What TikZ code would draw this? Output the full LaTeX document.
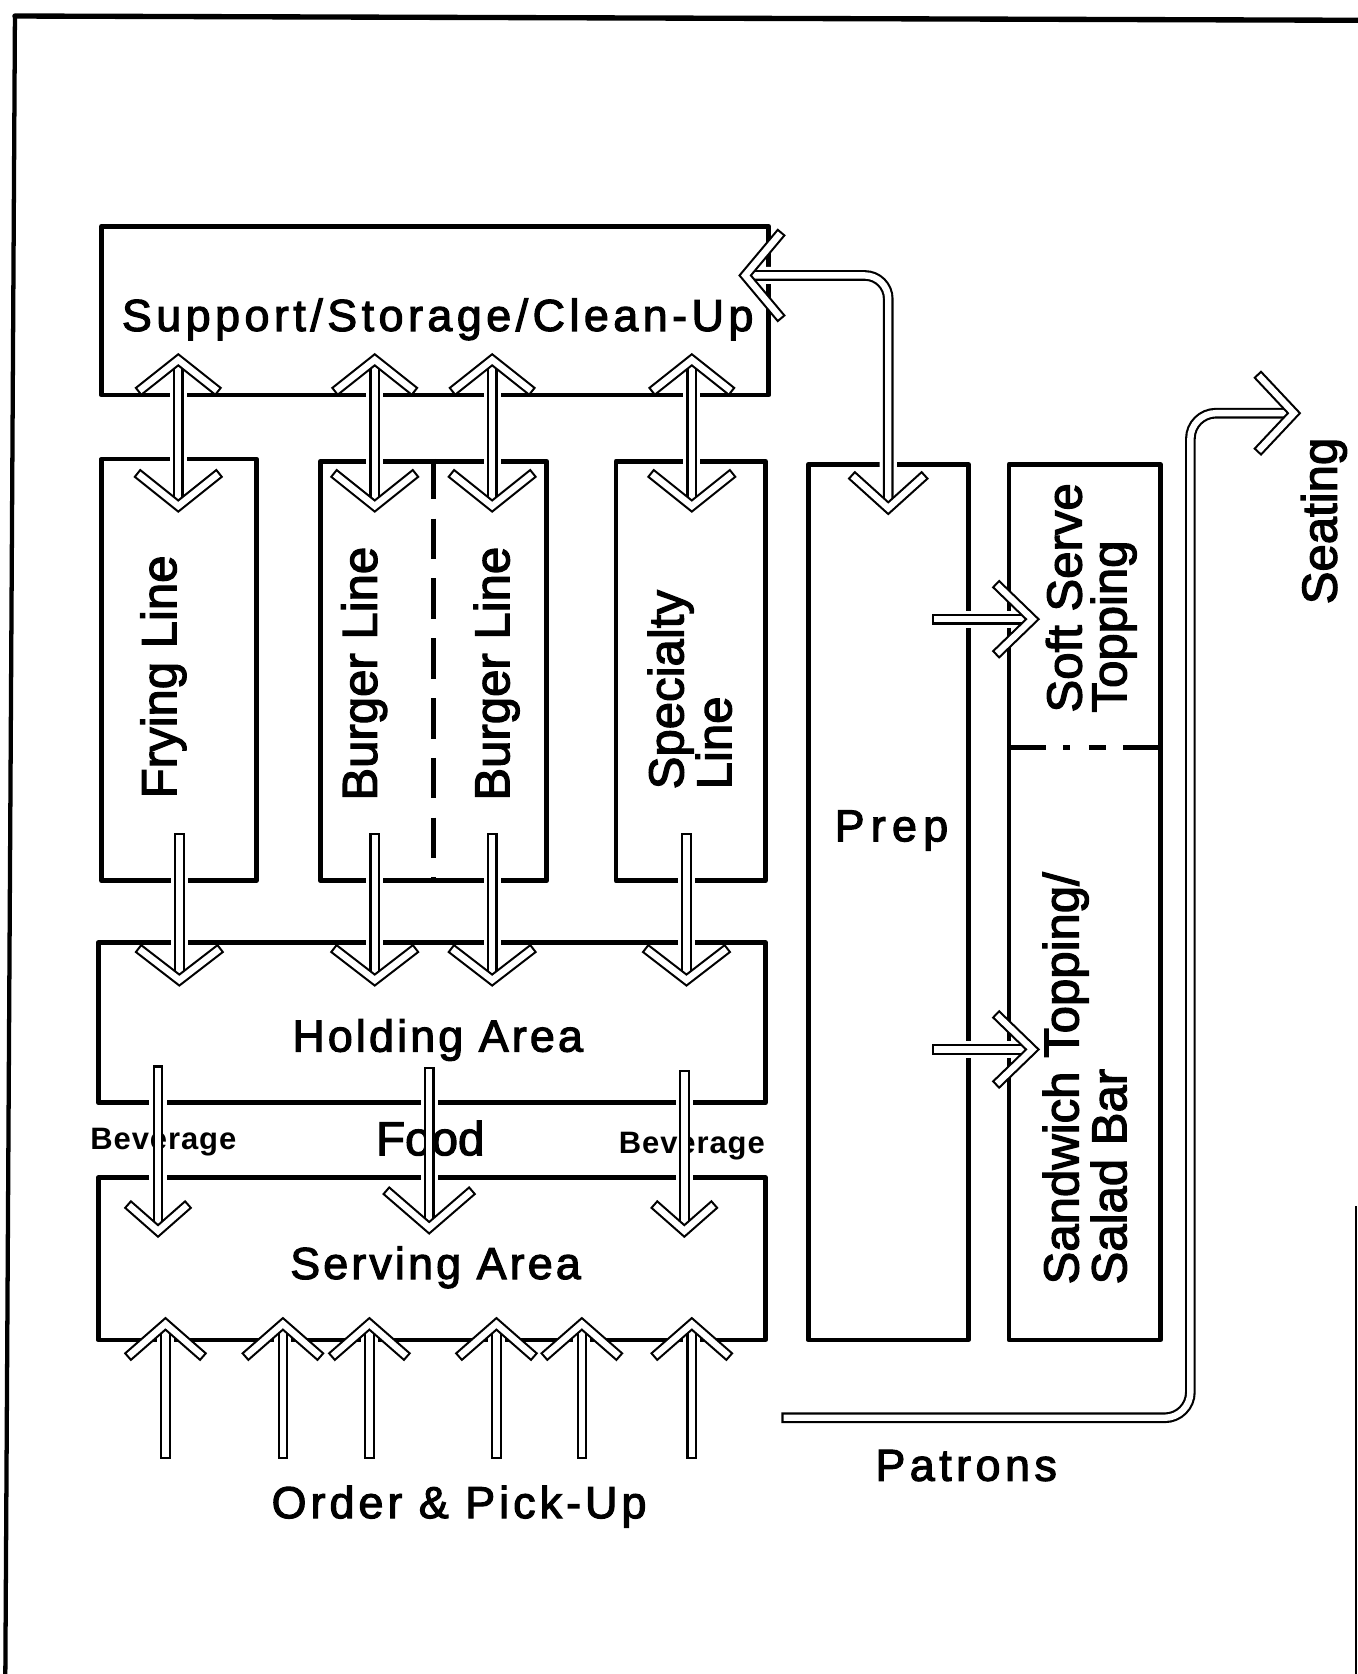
\documentclass[tikz,border=0pt]{standalone}
\usepackage{fontspec}
\setmainfont{Liberation Sans}[FakeBold=2.5]
\newfontfamily\spacedfont{Liberation Sans}[LetterSpace=9, FakeBold=2.5]
\newfontfamily\bevfont{Liberation Sans Bold}[LetterSpace=3]
\usetikzlibrary{calc}
\newcommand\chev[5]{\draw[chev] ($(#1)+(#2,#3)$) -- (#1) -- ($(#1)+(#4,#5)$);}
\begin{document}
\begin{tikzpicture}[x=0.5pt,y=-0.5pt,
  area/.style={draw, line width=2.2pt, line join=round, inner sep=0pt},
  dbl/.style={draw, double=white, line width=1pt, double distance=3pt, line cap=rect, line join=miter},
  chev/.style={draw, double=white, line width=1pt, double distance=3pt, line cap=rect, line join=miter, miter limit=10},
  halo/.style={draw=white, line width=8pt},
  big/.style={font=\spacedfont\fontsize{21}{25}\selectfont, inner sep=0pt, anchor=base},
  vert/.style={font=\fontsize{23}{21}\selectfont, rotate=90, inner sep=0pt, anchor=base, align=left},
  bev/.style={font=\bevfont\fontsize{14.5}{16}\selectfont, inner sep=0pt, anchor=base}]
\useasboundingbox (0,0) rectangle (1272,1568);
% frame
\draw[line width=2.5pt, line cap=round] (14,15) -- (1272,19);
\draw[line width=2pt, line cap=round] (14,15) -- (5,1568);
\draw[line width=1pt] (1270,1130) -- (1270,1568);
% areas
\node[area, minimum width=312.5pt, minimum height=79pt] (support) at (407.5,291) {};
\node[area, minimum width=72.5pt, minimum height=197.5pt] (frying) at (167.5,627.5) {};
\node[area, minimum width=106pt, minimum height=196.5pt] (burger) at (406,628.5) {};
\node[area, minimum width=70pt, minimum height=196.5pt] (special) at (647,628.5) {};
\node[area, minimum width=75pt, minimum height=410pt] (prep) at (832,845) {};
\node[area, minimum width=71pt, minimum height=410pt] (topping) at (1016,845) {};
\node[area, minimum width=312.5pt, minimum height=75pt] (holding) at (404.5,958) {};
\node[area, minimum width=312.5pt, minimum height=76pt] (serving) at (404.5,1179) {};
% dividers
\draw[line width=2pt, dash pattern=on 19pt off 9pt] (burger.north) -- (burger.south);
\draw[line width=2.2pt] (945,700) -- (980,700) (996,700) -- (1002,700) (1020,700) -- (1036,700) (1052,700) -- (1087,700);
% connector end points
\foreach \n/\x in {a/167,b/351,c/461,d/648}{
  \coordinate (\n up) at (\x,337);
  \coordinate (\n dn) at (\x,474);}
\foreach \n/\x in {a/168,b/351,c/461,d/643}{
  \coordinate (\n s) at (\x,785);
  \coordinate (\n h) at (\x,918);}
\coordinate (bev1s) at (148,1003); \coordinate (bev1e) at (148,1153);
\coordinate (foods) at (402,1004); \coordinate (foode) at (402,1150);
\coordinate (bev2s) at (641,1007); \coordinate (bev2e) at (641,1153);
\foreach \n/\x in {1/155,2/265,3/346,4/465,5/545,6/648}{
  \coordinate (o\n s) at (\x,1362);
  \coordinate (o\n e) at (\x,1240);}
\coordinate (p1s) at (878,580); \coordinate (p1e) at (967,580);
\coordinate (p2s) at (878,983); \coordinate (p2e) at (967,983);
\coordinate (spL) at (698,258); \coordinate (spR) at (832,476);
\coordinate (pat) at (737,1328); \coordinate (seat) at (1212,387);
% halos
\foreach \n in {a,b,c,d}{
  \draw[halo] (\n up) -- (\n dn);
  \draw[halo] (\n s) -- (\n h);}
\draw[halo] (bev1s) -- (bev1e); \draw[halo] (foods) -- (foode); \draw[halo] (bev2s) -- (bev2e);
\foreach \n in {1,...,6}{\draw[halo] (o\n s) -- (o\n e);}
\draw[halo] (p1s) -- (p1e); \draw[halo] (p2s) -- (p2e);
\draw[halo, rounded corners=11pt] (spL) -| (spR);
% texts
\node[big] (tsupport) at (410,310) {\addfontfeature{LetterSpace=10}Support/Storage/Clean-Up};
\node[big] (tholding) at (410,985) {\addfontfeature{LetterSpace=7}Holding Area};
\node[big] (tserving) at (408,1198) {\addfontfeature{LetterSpace=7}Serving Area};
\node[big] (tprep) at (835,788) {\addfontfeature{LetterSpace=14}Prep};
\node[big] (tpatrons) at (905,1387) {\addfontfeature{LetterSpace=10}Patrons};
\node[big] (torder) at (430,1422) {Order \& Pick-Up};
\node[font=\fontsize{22.3}{25}\selectfont, inner sep=0pt, anchor=base] (tfood) at (403,1082) {Food};
\node[bev] (tbev1) at (153,1077) {Beverage};
\node[bev] (tbev2) at (648,1080) {Beverage};
\node[vert] (tfry) at (165,634) {Frying Line};
\node[vert] (tburg1) at (353,631) {Burger Line};
\node[vert] (tburg2) at (477,631) {Burger Line};
\node[vert] (tspec) at (685,646) {Specialty\\Line};
\node[vert] (tsoft) at (1055,560) {Soft Serve\\Topping};
\node[vert] (tsand) at (1055,1010) {Sandwich Topping/\\Salad Bar};
\node[vert] (tseat) at (1252,488) {Seating};
% shafts
\foreach \n in {a,b,c,d}{
  \draw[dbl, shorten <=2.5pt, shorten >=2.5pt] (\n up) -- (\n dn);
  \draw[dbl, shorten >=2.5pt] (\n s) -- (\n h);}
\draw[dbl, shorten >=2.5pt] (bev1s) -- (bev1e);
\draw[dbl, shorten >=2.5pt] (foods) -- (foode);
\draw[dbl, shorten >=2.5pt] (bev2s) -- (bev2e);
\foreach \n in {1,...,6}{\draw[dbl, shorten >=2.5pt] (o\n s) -- (o\n e);}
\draw[dbl, shorten >=2.5pt] (p1s) -- (p1e);
\draw[dbl, shorten >=2.5pt] (p2s) -- (p2e);
\draw[dbl, rounded corners=11pt, shorten <=2.5pt, shorten >=2.5pt] (spL) -| (spR);
\draw[dbl, rounded corners=12pt, shorten >=2.5pt] (pat) -| (1115,387) -- (seat);
% chevrons
\foreach \n in {a,b,c,d}{
  \chev{\n up}{-34}{27}{34}{27}
  \chev{\n dn}{-35}{-28}{35}{-28}
  \chev{\n h}{-35}{-27}{35}{-27}}
\chev{bev1e}{-25}{-22}{25}{-22}
\chev{bev2e}{-25}{-22}{25}{-22}
\chev{foode}{-37}{-32}{37}{-32}
\foreach \n in {1,...,6}{\chev{o\n e}{-32}{28}{32}{28}}
\chev{p1e}{-31}{-30}{-31}{30}
\chev{p2e}{-31}{-30}{-31}{30}
\chev{spL}{31}{-37}{31}{37}
\chev{spR}{-31}{-28}{31}{-28}
\chev{seat}{-31}{-33}{-31}{33}
\end{tikzpicture}
\end{document}
